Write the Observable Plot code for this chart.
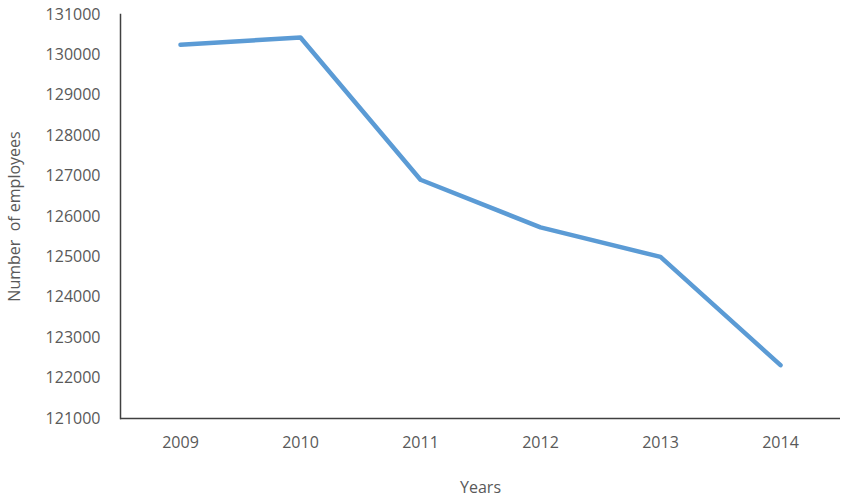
<!DOCTYPE html>
<html>
<head>
<meta charset="utf-8">
<script src="https://cdn.jsdelivr.net/npm/d3@7"></script>
<script src="https://cdn.jsdelivr.net/npm/@observablehq/plot@0.6"></script>
<style>
  body { margin: 0; background: white; }
</style>
</head>
<body>
<div id="chart"></div>
<script>
const years = ["2009", "2010", "2011", "2012", "2013", "2014"];
const employees = [130250, 130430, 126910, 125730, 125000, 122320];
const yTicks = [121000, 122000, 123000, 124000, 125000, 126000, 127000, 128000, 129000, 130000, 131000];

const rows = years.map((y, i) => ({ year: y, value: employees[i] }));
const ink = "#595959";

const svg = Plot.plot({
  width: 843,
  height: 497,
  marginLeft: 120,
  marginRight: 3,
  marginTop: 14,
  marginBottom: 79,
  style: { fontFamily: "Open Sans, sans-serif", fontSize: "16px", color: ink, background: "white" },
  x: { type: "point", domain: years, padding: 0.5 },
  y: { domain: [121000, 131000] },
  marks: [
    Plot.axisX({ label: "Years", labelAnchor: "center", labelArrow: "none", labelOffset: 74, tickSize: 0, tickPadding: 18 }),
    Plot.axisY({ ticks: yTicks, tickFormat: d => String(d), label: "Number  of employees", labelAnchor: "center", labelArrow: "none", labelOffset: 112, tickSize: 0, tickPadding: 20 }),
    Plot.frame({ anchor: "left", stroke: "#404040", strokeWidth: 1.5 }),
    Plot.ruleY([121000], { stroke: "#404040", strokeWidth: 1.5 }),
    Plot.lineY(rows, { x: "year", y: "value", stroke: "#5b9bd5", strokeWidth: 4.5 })
  ]
});
document.getElementById("chart").appendChild(svg);
</script>
</body>
</html>
